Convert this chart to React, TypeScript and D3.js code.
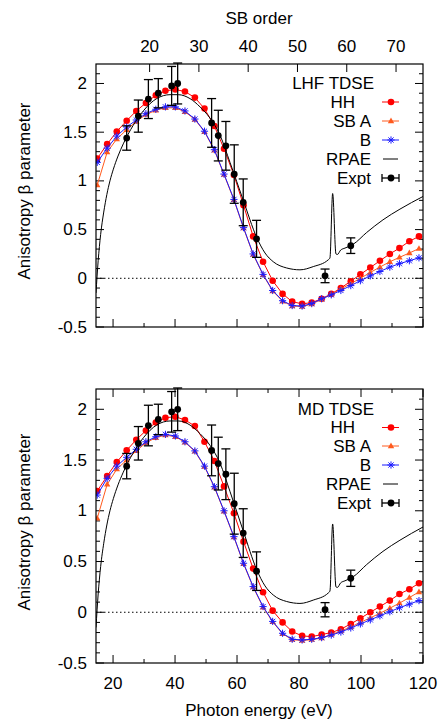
import React from 'react';
import * as d3 from 'd3';

// ---------- data ----------
const energies = [14.9, 18.1, 21.2, 24.4, 27.5, 30.6, 33.8, 36.9, 40.1, 43.2, 46.4, 49.5, 52.7, 55.8, 59.0, 62.1, 65.2, 68.4, 71.5, 74.7, 77.8, 81.0, 84.1, 87.3, 90.4, 93.5, 96.7, 99.8, 103.0, 106.1, 109.3, 112.4, 115.6, 118.7];

const hhLHF = [1.23, 1.377, 1.507, 1.618, 1.718, 1.80, 1.879, 1.925, 1.938, 1.917, 1.855, 1.742, 1.563, 1.33, 1.06, 0.75, 0.43, 0.17, -0.025, -0.16, -0.24, -0.262, -0.25, -0.21, -0.16, -0.10, -0.03, 0.04, 0.11, 0.18, 0.25, 0.31, 0.38, 0.43];
const sbALHF = [0.957, 1.295, 1.43, 1.525, 1.61, 1.68, 1.725, 1.75, 1.75, 1.71, 1.63, 1.505, 1.315, 1.065, 0.805, 0.515, 0.245, 0.035, -0.13, -0.235, -0.285, -0.29, -0.265, -0.215, -0.165, -0.11, -0.055, 0.0, 0.06, 0.115, 0.17, 0.215, 0.26, 0.305];
const sbBLHF = [1.19, 1.336, 1.46, 1.553, 1.625, 1.69, 1.735, 1.76, 1.76, 1.718, 1.635, 1.51, 1.32, 1.07, 0.81, 0.52, 0.25, 0.04, -0.125, -0.23, -0.28, -0.285, -0.26, -0.21, -0.17, -0.125, -0.075, -0.025, 0.025, 0.07, 0.115, 0.15, 0.18, 0.21];

const hhMD = [1.195, 1.343, 1.48, 1.596, 1.70, 1.79, 1.87, 1.917, 1.927, 1.895, 1.835, 1.68, 1.49, 1.24, 0.975, 0.696, 0.43, 0.197, 0.016, -0.10, -0.19, -0.233, -0.24, -0.22, -0.20, -0.167, -0.115, -0.06, 0.0, 0.056, 0.115, 0.18, 0.227, 0.286];
const sbAMD = [0.926, 1.26, 1.41, 1.50, 1.59, 1.67, 1.72, 1.745, 1.73, 1.675, 1.585, 1.435, 1.232, 0.995, 0.74, 0.478, 0.248, 0.05, -0.095, -0.212, -0.27, -0.278, -0.27, -0.254, -0.22, -0.185, -0.145, -0.10, -0.055, -0.01, 0.04, 0.09, 0.145, 0.20];
const sbBMD = [1.155, 1.32, 1.44, 1.527, 1.606, 1.68, 1.73, 1.753, 1.737, 1.68, 1.59, 1.44, 1.237, 1.0, 0.745, 0.483, 0.253, 0.056, -0.09, -0.207, -0.266, -0.273, -0.266, -0.25, -0.225, -0.195, -0.155, -0.115, -0.075, -0.035, 0.005, 0.045, 0.08, 0.115];

const rpaeE = [14.5, 15.2, 16.0, 17.0, 18.0, 19.0, 20.1, 21.6, 23.3, 26.5, 29.8, 34.08, 38.37, 41.05, 44.82, 48.05, 51.27, 54.5, 57.73, 62.02, 66.34, 69.02, 71.69, 76.02, 80.31, 84.6, 89.44, 89.98, 90.85, 91.92, 92.4, 93.44, 94.82, 97.5, 101.82, 107.08, 112.56, 120];
const rpaeB = [-0.15, 0.18, 0.45, 0.68, 0.86, 1.0, 1.12, 1.255, 1.38, 1.57, 1.72, 1.845, 1.885, 1.885, 1.845, 1.76, 1.645, 1.47, 1.19, 0.80, 0.42, 0.26, 0.17, 0.106, 0.087, 0.12, 0.19, 0.21, 0.87, 0.25, 0.245, 0.29, 0.31, 0.35, 0.47, 0.60, 0.71, 0.84];

const exptE = [24.4, 28.15, 31.4, 34.6, 38.9, 40.85, 51.8, 53.95, 56.4, 59.1, 62.0, 66.3, 88.4, 96.7];
const exptB = [1.44, 1.665, 1.84, 1.90, 1.975, 2.0, 1.595, 1.465, 1.36, 1.07, 0.78, 0.405, 0.025, 0.335];
const exptErr = [0.125, 0.165, 0.2, 0.15, 0.2, 0.21, 0.25, 0.26, 0.25, 0.3, 0.24, 0.19, 0.07, 0.08];

const xMajor = [20, 40, 60, 80, 100, 120];
const xMinor = [30, 50, 70, 90, 110];
const sbTicks = [20, 30, 40, 50, 60, 70];
const yMajor = [-0.5, 0, 0.5, 1, 1.5, 2];
const yMinorAll = [-0.4, -0.3, -0.2, -0.1, 0.1, 0.2, 0.3, 0.4, 0.6, 0.7, 0.8, 0.9, 1.1, 1.2, 1.3, 1.4, 1.6, 1.7, 1.8, 1.9, 2.1];
const legendLabels = ['HH', 'SB A', 'B', 'RPAE', 'Expt'];
const OMEGA = 1.59; // eV per SB order

// ---------- layout ----------
const X0 = 96, X1 = 423;
const FONT = "'Liberation Sans', Arial, Helvetica, sans-serif";
const FS = 17;
const RED = '#ff0000', ORANGE = '#ff5a1e', BLUE = '#1a1aff';

const xScale = d3.scaleLinear().domain([14.5, 120]).range([X0, X1]);
const sbScale = d3.scaleLinear().domain([14.5 / OMEGA, 120 / OMEGA]).range([X0, X1]);

type PanelCfg = {
  top: number; bottom: number; title: string;
  hh: number[]; sbA: number[]; sbB: number[];
  legendY: number[]; labelY: number; id: string;
  showTopAxis: boolean; showBottomLabels: boolean;
};

const panels: PanelCfg[] = [
  { id: 'p1', top: 64, bottom: 327, title: 'LHF TDSE', hh: hhLHF, sbA: sbALHF, sbB: sbBLHF,
    legendY: [83, 102, 121, 140, 159, 178], labelY: 191, showTopAxis: true, showBottomLabels: false },
  { id: 'p2', top: 389, bottom: 663, title: 'MD TDSE', hh: hhMD, sbA: sbAMD, sbB: sbBMD,
    legendY: [409, 427.5, 446, 465, 484, 503], labelY: 522, showTopAxis: false, showBottomLabels: true },
];

const Circle = ({ x, y }: { x: number; y: number }) => <circle cx={x} cy={y} r={3.3} fill={RED} />;
const Tri = ({ x, y }: { x: number; y: number }) => (
  <path d={`M${x},${y - 3.4}L${x + 3.2},${y + 2.2}L${x - 3.2},${y + 2.2}Z`} fill={ORANGE} />
);
const Star = ({ x, y }: { x: number; y: number }) => (
  <path d={`M${x - 3.6},${y}H${x + 3.6}M${x},${y - 3.6}V${y + 3.6}M${x - 2.6},${y - 2.6}L${x + 2.6},${y + 2.6}M${x - 2.6},${y + 2.6}L${x + 2.6},${y - 2.6}`}
    stroke={BLUE} strokeWidth={1} fill="none" />
);

function Panel({ cfg }: { cfg: PanelCfg }) {
  const y = d3.scaleLinear().domain([-0.5, 2.2]).range([cfg.bottom, cfg.top]);
  const line = d3.line<[number, number]>().x(d => xScale(d[0])).y(d => y(d[1]));
  const smooth = d3.line<[number, number]>().x(d => xScale(d[0])).y(d => y(d[1])).curve(d3.curveMonotoneX);
  const pts = (vals: number[]) => energies.map((e, i) => [e, vals[i]] as [number, number]);
  const rpae = rpaeE.map((e, i) => [e, rpaeB[i]] as [number, number]);
  const MAJ = 8, MIN = 4;
  const lx0 = 382, lx1 = 399, lxm = 391;
  return (
    <g>
      <defs>
        <clipPath id={cfg.id}>
          <rect x={X0} y={cfg.top} width={X1 - X0} height={cfg.bottom - cfg.top} />
        </clipPath>
      </defs>
      {/* ticks */}
      <g stroke="#000" strokeWidth={1}>
        {xMajor.map(t => (
          <g key={'xm' + t}>
            <line x1={xScale(t)} x2={xScale(t)} y1={cfg.bottom} y2={cfg.bottom - MAJ} />
            {!cfg.showTopAxis && <line x1={xScale(t)} x2={xScale(t)} y1={cfg.top} y2={cfg.top + MAJ} />}
          </g>
        ))}
        {xMinor.map(t => (
          <g key={'xn' + t}>
            <line x1={xScale(t)} x2={xScale(t)} y1={cfg.bottom} y2={cfg.bottom - MIN} />
            {!cfg.showTopAxis && <line x1={xScale(t)} x2={xScale(t)} y1={cfg.top} y2={cfg.top + MIN} />}
          </g>
        ))}
        {cfg.showTopAxis && sbTicks.map(t => (
          <line key={'sb' + t} x1={sbScale(t)} x2={sbScale(t)} y1={cfg.top} y2={cfg.top + MAJ} />
        ))}
        {yMajor.map(t => (
          <g key={'ym' + t}>
            <line x1={X0} x2={X0 + MAJ} y1={y(t)} y2={y(t)} />
            <line x1={X1} x2={X1 - MAJ} y1={y(t)} y2={y(t)} />
          </g>
        ))}
        {yMinorAll.map(t => (
          <g key={'yn' + t}>
            <line x1={X0} x2={X0 + MIN} y1={y(t)} y2={y(t)} />
            <line x1={X1} x2={X1 - MIN} y1={y(t)} y2={y(t)} />
          </g>
        ))}
      </g>
      {/* tick labels */}
      <g fontFamily={FONT} fontSize={FS} fill="#000">
        {yMajor.map(t => (
          <text key={'yl' + t} x={87} y={y(t)} textAnchor="end" dominantBaseline="central">{String(t)}</text>
        ))}
        {cfg.showBottomLabels && xMajor.map(t => (
          <text key={'xl' + t} x={xScale(t)} y={cfg.bottom + 20} textAnchor="middle" dominantBaseline="central">{String(t)}</text>
        ))}
        {cfg.showTopAxis && sbTicks.map(t => (
          <text key={'sl' + t} x={sbScale(t)} y={46} textAnchor="middle" dominantBaseline="central">{String(t)}</text>
        ))}
        <text transform={`translate(30,${cfg.labelY}) rotate(-90)`} textAnchor="middle">Anisotropy β parameter</text>
      </g>
      {/* data */}
      <g clipPath={`url(#${cfg.id})`}>
        <line x1={X0} x2={X1} y1={y(0)} y2={y(0)} stroke="#000" strokeWidth={1} strokeDasharray="1.5,2.5" />
        <path d={line(pts(cfg.hh)) || ''} fill="none" stroke={RED} strokeWidth={1} />
        {pts(cfg.hh).map((d, i) => <Circle key={'h' + i} x={xScale(d[0])} y={y(d[1])} />)}
        <path d={line(pts(cfg.sbA)) || ''} fill="none" stroke={ORANGE} strokeWidth={1} />
        {pts(cfg.sbA).map((d, i) => <Tri key={'a' + i} x={xScale(d[0])} y={y(d[1])} />)}
        <path d={line(pts(cfg.sbB)) || ''} fill="none" stroke={BLUE} strokeWidth={1} />
        {pts(cfg.sbB).map((d, i) => <Star key={'b' + i} x={xScale(d[0])} y={y(d[1])} />)}
        <path d={smooth(rpae) || ''} fill="none" stroke="#000" strokeWidth={1} />
      </g>
      <g stroke="#000" strokeWidth={1.3}>
        {exptE.map((e, i) => {
          const cx = xScale(e);
          const y1 = y(exptB[i] + exptErr[i]);
          const y2 = y(exptB[i] - exptErr[i]);
          return (
            <g key={'e' + i}>
              <line x1={cx} x2={cx} y1={y1} y2={y2} />
              <line x1={cx - 4.5} x2={cx + 4.5} y1={y1} y2={y1} />
              <line x1={cx - 4.5} x2={cx + 4.5} y1={y2} y2={y2} />
              <circle cx={cx} cy={y(exptB[i])} r={3.4} fill="#000" stroke="none" />
            </g>
          );
        })}
      </g>
      {/* frame */}
      <rect x={X0} y={cfg.top} width={X1 - X0} height={cfg.bottom - cfg.top} fill="none" stroke="#000" strokeWidth={1.2} />
      {/* legend */}
      <g fontFamily={FONT} fontSize={FS} fill="#000">
        <text x={374} y={cfg.legendY[0]} textAnchor="end" dominantBaseline="central">{cfg.title}</text>
        {legendLabels.map((l, i) => (
          <text key={l} x={l === 'HH' ? 355 : 371} y={cfg.legendY[i + 1]} textAnchor="end" dominantBaseline="central">{l}</text>
        ))}
      </g>
      <g>
        <line x1={lx0} x2={lx1} y1={cfg.legendY[1]} y2={cfg.legendY[1]} stroke={RED} />
        <Circle x={lxm} y={cfg.legendY[1]} />
        <line x1={lx0} x2={lx1} y1={cfg.legendY[2]} y2={cfg.legendY[2]} stroke={ORANGE} />
        <Tri x={lxm} y={cfg.legendY[2]} />
        <line x1={lx0} x2={lx1} y1={cfg.legendY[3]} y2={cfg.legendY[3]} stroke={BLUE} />
        <Star x={lxm} y={cfg.legendY[3]} />
        <line x1={lx0 + 1} x2={lx1 - 1} y1={cfg.legendY[4]} y2={cfg.legendY[4]} stroke="#000" />
        <g stroke="#000" strokeWidth={1.3}>
          <line x1={lx0} x2={lx1} y1={cfg.legendY[5]} y2={cfg.legendY[5]} />
          <line x1={lx0} x2={lx0} y1={cfg.legendY[5] - 4} y2={cfg.legendY[5] + 4} />
          <line x1={lx1} x2={lx1} y1={cfg.legendY[5] - 4} y2={cfg.legendY[5] + 4} />
          <circle cx={lxm} cy={cfg.legendY[5]} r={3.4} fill="#000" stroke="none" />
        </g>
      </g>
    </g>
  );
}

export default function App() {
  return (
    <svg width={440} height={719} viewBox="0 0 440 719"
      style={{ position: 'absolute', left: 0, top: 0, background: '#fff' }}>
      <rect x={0} y={0} width={440} height={719} fill="#fff" />
      {panels.map(p => <Panel key={p.id} cfg={p} />)}
      <g fontFamily={FONT} fontSize={FS} fill="#000">
        <text x={259} y={18} textAnchor="middle" dominantBaseline="central">SB order</text>
        <text x={259} y={710} textAnchor="middle" dominantBaseline="central">Photon energy (eV)</text>
      </g>
    </svg>
  );
}
